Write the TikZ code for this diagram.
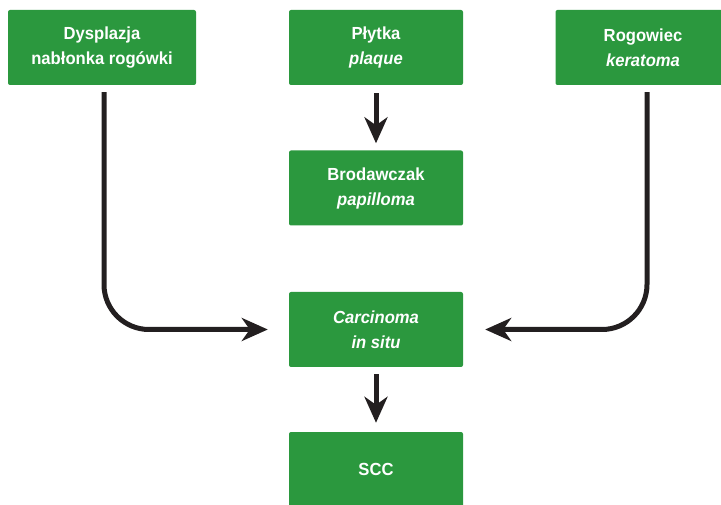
\documentclass[tikz,border=0pt]{standalone}
\usepackage{fontspec}
\setmainfont{Liberation Sans}[FakeStretch=0.95]
\usepackage{xcolor}
\usetikzlibrary{arrows.meta}

\definecolor{boxgreen}{RGB}{43,152,62}
\definecolor{arrowdark}{RGB}{35,31,32}

\begin{document}
\begin{tikzpicture}[x=1pt,y=-1pt,
  stage/.style={fill=boxgreen, rounded corners=2pt, minimum height=75pt,
    inner sep=0pt, text=white, align=center,
    font=\fontsize{17.5}{25}\selectfont\bfseries},
  flow/.style={arrowdark, line width=5pt,
    -{Stealth[length=26pt,width=23pt,inset=8pt]}}]
			\clip (0,0) rectangle (721,505);
			
			\node[stage, minimum width=188pt] (dysplazja) at (102,47.5) {Dysplazja\\nabłonka rogówki};
			\node[stage, minimum width=174pt] (plytka) at (376,47.5) {Płytka\\\textit{plaque}};
			\node[stage, minimum width=175pt] (rogowiec) at (643,47.5) {Rogowiec\\\textit{keratoma}};
			\node[stage, minimum width=174pt] (brodawczak) at (376,188) {Brodawczak\\\textit{papilloma}};
			\node[stage, minimum width=174pt] (cis) at (376,329.5) {\textit{Carcinoma}\\\textit{in situ}};
			\node[stage, minimum width=174pt] (scc) at (376,469.5) {SCC};
			
			\draw[flow, shorten <=8pt, shorten >=7pt] (plytka) -- (brodawczak);
			\draw[flow, shorten <=7pt, shorten >=9pt] (cis) -- (scc);
			
			\draw[flow, rounded corners=45pt, shorten >=21pt]
				([xshift=2pt,yshift=-7pt]dysplazja.south) |- (cis.west);
			\draw[flow, rounded corners=45pt, shorten >=22pt]
				([xshift=4pt,yshift=-7pt]rogowiec.south) |- (cis.east);
		\end{tikzpicture}
\end{document}
